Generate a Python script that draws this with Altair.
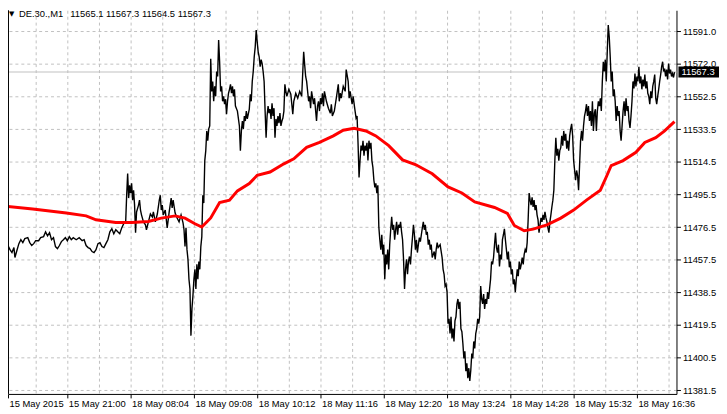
import altair as alt
import pandas as pd

# ---- price series (1-minute bars, bar number along the chart) ----
bar = [
    4, 6, 8, 10, 12, 14, 15, 17, 19, 21,
    23, 25, 28, 30, 32, 34, 36, 39, 41, 44,
    46, 48, 50, 52, 54, 56, 58, 60, 62, 64,
    66, 68, 70, 72, 74, 77, 80, 83, 85, 87,
    89, 91, 93, 95, 97, 99, 101, 103, 105, 107,
    109, 111, 113, 115, 117, 119, 121, 123, 125, 127,
    128, 129, 130, 131, 132, 133, 134, 135, 136, 137,
    138, 140, 141, 142, 143, 145, 147, 148, 150, 152,
    154, 155, 157, 159, 161, 162, 163, 164, 165, 167,
    169, 171, 173, 174, 175, 177, 179, 181, 183, 185,
    186, 187, 188, 189, 190, 191, 192, 193, 194, 195,
    196, 197, 198, 199, 200, 201, 202, 203, 204, 205,
    206, 207, 208, 209, 210, 211, 212, 213, 214, 215,
    216, 217, 218, 219, 220, 221, 222, 223, 224, 225,
    226, 227, 228, 229, 230, 231, 232, 233, 234, 235,
    236, 237, 238, 240, 242, 243, 244, 245, 246, 247,
    248, 249, 250, 252, 253, 254, 255, 256, 257, 258,
    259, 260, 261, 262, 263, 264, 265, 266, 267, 268,
    269, 270, 271, 272, 273, 274, 275, 276, 277, 278,
    279, 280, 281, 282, 283, 284, 285, 286, 287, 288,
    289, 290, 292, 294, 296, 297, 299, 301, 303, 305,
    307, 308, 309, 310, 311, 312, 313, 314, 315, 317,
    318, 320, 321, 322, 323, 324, 325, 326, 327, 328,
    330, 332, 334, 335, 336, 338, 340, 342, 343, 344,
    345, 347, 349, 350, 352, 353, 354, 356, 357, 359,
    360, 361, 362, 363, 364, 365, 366, 367, 368, 369,
    370, 371, 372, 373, 374, 375, 376, 377, 378, 379,
    380, 381, 382, 383, 384, 385, 386, 387, 388, 389,
    390, 391, 392, 393, 394, 395, 396, 397, 398, 399,
    400, 401, 402, 403, 404, 405, 406, 407, 408, 409,
    410, 411, 412, 413, 414, 415, 416, 417, 418, 419,
    420, 421, 422, 423, 424, 425, 426, 427, 428, 429,
    430, 431, 432, 433, 434, 435, 436, 437, 438, 439,
    440, 441, 442, 443, 445, 447, 448, 449, 450, 451,
    452, 453, 454, 455, 456, 457, 458, 459, 460, 461,
    462, 463, 464, 465, 466, 467, 468, 469, 470, 471,
    472, 473, 474, 475, 476, 477, 478, 479, 480, 481,
    482, 483, 484, 485, 486, 487, 488, 489, 490, 491,
    492, 493, 494, 495, 496, 497, 498, 499, 500, 501,
    502, 503, 504, 505, 506, 507, 508, 509, 510, 511,
    512, 513, 514, 515, 516, 517, 518, 519, 520, 521,
    522, 523, 524, 525, 526, 527, 528, 529, 530, 531,
    532, 533, 534, 535, 536, 537, 538, 539, 540, 541,
    542, 543, 544, 545, 546, 547, 548, 549, 550, 551,
    552, 553, 554, 555, 556, 557, 558, 559, 560, 561,
    562, 563, 564, 565, 566, 567, 568, 569, 570, 571,
    572, 573, 574, 575, 576, 577, 578, 579, 580, 581,
    582, 583, 584, 585, 586, 587, 588, 589, 590, 591,
    592, 593, 594, 595, 596, 597, 598, 599, 600, 601,
    602, 603, 604, 605, 606, 607, 608, 609, 610, 611,
    612, 613, 614, 615, 616, 617, 618, 619, 620, 621,
    622, 623, 624, 625, 626, 627, 628, 629, 630, 631,
    632, 633, 634, 635, 636, 637, 638, 639, 640, 641,
    642, 643, 644, 645, 646, 647, 648, 649, 650, 651,
    652, 653, 654, 655, 656, 657, 658, 659, 660, 661,
    662, 663, 664, 665, 666, 667, 668, 669, 670, 671,
    672, 673, 674, 675, 676, 677, 678, 679, 680, 681, 682,
]
price = [
    11465.4, 11462.5, 11466.0, 11463.6, 11461.9, 11464.8, 11459.0, 11463.1, 11467.1, 11469.4,
    11467.7, 11470.0, 11470.6, 11467.7, 11466.0, 11467.1, 11468.8, 11468.8, 11470.6, 11471.2,
    11474.0, 11471.7, 11473.5, 11469.4, 11470.6, 11465.4, 11464.2, 11466.0, 11468.3, 11469.4,
    11470.6, 11468.8, 11471.2, 11469.4, 11470.6, 11469.4, 11470.6, 11468.8, 11469.4, 11466.0,
    11464.8, 11464.2, 11462.5, 11461.9, 11463.6, 11467.1, 11467.7, 11465.4, 11464.8, 11467.1,
    11469.4, 11474.0, 11475.8, 11472.9, 11475.2, 11474.0, 11472.9, 11476.3, 11478.7, 11479.8,
    11495.4, 11508.1, 11493.7, 11501.2, 11496.6, 11502.3, 11492.5, 11498.3, 11489.6, 11473.5,
    11485.6, 11489.6, 11492.5, 11486.7, 11483.9, 11479.8, 11478.1, 11475.2, 11479.8, 11484.4,
    11482.7, 11485.6, 11479.8, 11484.4, 11492.5, 11495.4, 11486.7, 11489.6, 11483.9, 11486.7,
    11476.3, 11485.6, 11493.7, 11487.9, 11492.5, 11485.0, 11482.1, 11479.8, 11483.9, 11479.2,
    11475.2, 11465.4, 11476.3, 11463.6, 11457.9, 11446.3, 11440.6, 11413.4, 11429.0, 11436.5,
    11446.3, 11452.1, 11440.6, 11455.0, 11446.3, 11456.7, 11452.1, 11465.4, 11471.2, 11495.4,
    11490.8, 11515.6, 11521.4, 11532.9, 11527.2, 11534.1, 11535.8, 11575.1, 11556.0, 11561.8,
    11550.2, 11558.9, 11553.1, 11567.6, 11564.7, 11586.0, 11573.3, 11556.0, 11558.9, 11550.2,
    11553.1, 11548.5, 11551.4, 11542.7, 11550.2, 11554.9, 11557.2, 11560.1, 11554.9, 11558.9,
    11553.1, 11557.2, 11547.4, 11544.5, 11535.8, 11521.4, 11532.9, 11538.7, 11534.1, 11541.6,
    11538.7, 11544.5, 11539.9, 11545.6, 11554.3, 11550.2, 11561.8, 11567.6, 11576.2, 11582.0,
    11591.8, 11584.9, 11579.1, 11576.2, 11570.4, 11574.5, 11572.2, 11567.6, 11561.8, 11544.5,
    11528.9, 11541.6, 11547.4, 11543.3, 11545.6, 11539.9, 11549.1, 11541.6, 11546.2, 11528.9,
    11539.9, 11535.8, 11541.6, 11537.5, 11543.3, 11535.8, 11538.7, 11540.4, 11544.5, 11560.1,
    11556.0, 11553.1, 11557.2, 11554.3, 11542.7, 11550.2, 11554.9, 11552.0, 11556.0, 11553.1,
    11579.1, 11571.6, 11564.7, 11561.8, 11556.0, 11550.2, 11553.1, 11546.2, 11556.0, 11548.5,
    11552.0, 11538.7, 11547.4, 11550.2, 11544.5, 11552.0, 11548.5, 11554.9, 11547.4, 11556.0,
    11550.2, 11546.2, 11543.3, 11548.5, 11541.6, 11544.5, 11552.0, 11560.1, 11550.2, 11554.9,
    11552.0, 11558.9, 11556.0, 11568.7, 11561.8, 11552.0, 11556.0, 11548.5, 11553.1, 11544.5,
    11540.4, 11541.6, 11525.4, 11505.8, 11515.6, 11524.3, 11521.4, 11527.2, 11518.5, 11524.3,
    11521.4, 11526.0, 11515.6, 11527.2, 11522.5, 11526.0, 11515.6, 11511.6, 11504.1, 11500.0,
    11502.3, 11496.6, 11501.2, 11476.9, 11469.4, 11463.6, 11472.3, 11460.8, 11466.5, 11446.3,
    11460.8, 11455.0, 11463.6, 11452.1, 11466.5, 11475.2, 11482.7, 11475.2, 11478.1, 11469.4,
    11475.2, 11479.8, 11472.3, 11478.1, 11476.3, 11479.8, 11474.0, 11469.4, 11457.9, 11440.6,
    11452.1, 11457.9, 11449.2, 11456.7, 11459.6, 11455.0, 11463.6, 11470.6, 11478.1, 11472.3,
    11463.6, 11469.4, 11461.9, 11466.5, 11470.6, 11468.3, 11472.3, 11476.3, 11479.8, 11475.2,
    11478.1, 11472.3, 11474.0, 11466.5, 11469.4, 11463.6, 11466.5, 11459.0, 11460.8, 11462.5,
    11457.9, 11463.6, 11467.7, 11464.8, 11466.5, 11459.0, 11452.1, 11449.2, 11442.3, 11443.4,
    11438.8, 11420.4, 11423.2, 11414.6, 11424.4, 11411.7, 11417.5, 11410.0, 11422.1, 11424.4,
    11431.9, 11434.8, 11429.0, 11433.1, 11417.5, 11415.7, 11408.8, 11400.1, 11404.2, 11392.6,
    11397.3, 11388.6, 11394.4, 11386.9, 11393.2, 11403.0, 11400.1, 11410.0, 11405.9, 11414.6,
    11417.5, 11423.2, 11420.4, 11424.4, 11442.3, 11434.8, 11431.9, 11437.7, 11429.0, 11434.8,
    11431.9, 11438.8, 11434.8, 11440.6, 11446.3, 11456.7, 11455.0, 11459.0, 11466.5, 11473.5,
    11464.8, 11461.9, 11466.5, 11453.8, 11460.8, 11457.9, 11469.4, 11472.3, 11475.8, 11469.4,
    11463.6, 11457.9, 11462.5, 11453.3, 11456.7, 11449.2, 11452.1, 11443.4, 11446.3, 11438.8,
    11446.3, 11452.1, 11448.1, 11456.7, 11452.1, 11455.0, 11459.0, 11455.0, 11460.8, 11463.6,
    11461.9, 11467.7, 11481.0, 11496.6, 11492.5, 11489.6, 11494.2, 11488.5, 11492.5, 11486.7,
    11489.6, 11483.9, 11481.0, 11473.5, 11478.1, 11482.1, 11479.8, 11483.9, 11481.0, 11485.6,
    11482.1, 11479.8, 11476.3, 11473.5, 11479.8, 11483.9, 11488.5, 11492.5, 11498.3, 11515.6,
    11528.9, 11518.5, 11522.5, 11515.6, 11521.4, 11523.1, 11530.0, 11524.3, 11532.9, 11527.2,
    11531.2, 11522.5, 11527.2, 11521.4, 11530.0, 11534.1, 11537.0, 11530.0, 11515.6, 11509.8,
    11504.1, 11509.8, 11506.9, 11498.3, 11512.7, 11527.2, 11532.9, 11527.2, 11535.8, 11541.6,
    11544.5, 11548.5, 11541.6, 11547.4, 11538.7, 11544.5, 11535.8, 11550.2, 11532.9, 11543.3,
    11545.6, 11532.9, 11544.5, 11550.2, 11547.4, 11552.0, 11544.5, 11561.8, 11573.3, 11567.6,
    11574.5, 11561.8, 11579.1, 11594.7, 11587.8, 11576.2, 11561.8, 11567.6, 11553.1, 11557.2,
    11550.2, 11538.7, 11547.4, 11541.6, 11544.5, 11532.9, 11527.2, 11535.8, 11544.5, 11550.2,
    11541.6, 11552.0, 11544.5, 11547.4, 11538.7, 11534.7, 11541.6, 11550.2, 11561.8, 11557.7,
    11566.4, 11558.9, 11564.7, 11561.8, 11570.4, 11560.6, 11564.7, 11557.2, 11562.9, 11558.9,
    11565.8, 11557.7, 11561.8, 11554.9, 11553.1, 11548.5, 11556.0, 11552.0, 11558.9, 11561.8,
    11565.8, 11552.0, 11548.5, 11553.1, 11557.2, 11561.8, 11565.8, 11570.4, 11573.3, 11567.6,
    11569.3, 11564.7, 11568.7, 11562.9, 11572.2, 11566.4, 11568.7, 11564.7, 11566.4, 11564.1, 11567.3,
]
assert len(bar) == len(price), (len(bar), len(price))

# ---- moving average (red) ----
ma_bar = [4, 33, 67, 87, 97, 117, 133, 150, 163, 177,
          187, 197, 204, 213, 222, 232, 240, 252, 260, 273,
          287, 297, 310, 323, 337, 347, 358, 370, 380, 393,
          407, 420, 437, 453, 467, 480, 500, 513, 520, 530,
          539, 553, 567, 580, 593, 607, 613, 618, 630, 643,
          652, 663, 672, 682]
ma_price = [11489.1, 11487.3, 11485.0, 11483.3, 11481.0, 11479.4, 11479.4, 11480.0, 11482.0, 11483.3,
            11482.0, 11478.7, 11476.8, 11482.1, 11491.1, 11492.5, 11497.9, 11502.2, 11507.0, 11508.9,
            11513.7, 11516.6, 11523.3, 11526.2, 11530.0, 11533.3, 11534.5, 11532.9, 11530.0, 11524.3,
            11516.0, 11513.3, 11507.9, 11500.2, 11496.7, 11491.5, 11488.2, 11484.8, 11477.7, 11474.6,
            11475.6, 11478.1, 11482.0, 11486.7, 11492.5, 11498.3, 11506.0, 11512.7, 11515.6, 11520.4,
            11526.2, 11529.0, 11532.9, 11538.3]
assert len(ma_bar) == len(ma_price)

# ---- axis texts ----
time_labels = ["15 May 2015", "15 May 21:00", "18 May 08:04", "18 May 09:08", "18 May 10:12",
               "18 May 11:16", "18 May 12:20", "18 May 13:24", "18 May 14:28", "18 May 15:32",
               "18 May 16:36"]
price_tick_values = [11381.5, 11400.55, 11419.6, 11438.65, 11457.7, 11476.75,
                     11495.8, 11514.85, 11533.9, 11552.95, 11572.0, 11591.05]
price_tick_labels = ["11381.5", "11400.5", "11419.5", "11438.5", "11457.5", "11476.5",
                     "11495.5", "11514.5", "11533.5", "11552.5", "11572.0", "11591.0"]
last_price = 11567.3
header_symbol = "DE.30.,M1"
header_ohlc = "11565.1 11567.3 11564.5 11567.3"

W, H = 676, 388
FONT = "Liberation Sans"
FS = 9.5
GRID = "#C0C0C0"

price_df = pd.DataFrame({"bar": bar, "price": price})
ma_df = pd.DataFrame({"bar": ma_bar, "price": ma_price})

x_scale = alt.Scale(domain=[8, 684], nice=False, zero=False)
y_scale = alt.Scale(domain=[11379.36, 11603.35], nice=False, zero=False)

x_values = [8] + list(range(36, 677, 32))
t_arr = "[" + ",".join("'%s'" % t for t in time_labels) + "]"
x_label_expr = ("datum.value == 8 ? '%s' : ((datum.value - 4) %% 64 == 0 ? %s[round((datum.value - 4) / 64)] : '')"
                % (time_labels[0], t_arr))
p_arr = "[" + ",".join("'%s'" % t for t in price_tick_labels) + "]"
y_label_expr = "%s[round((datum.value - 11381.5) / 19.05)]" % p_arr

x_axis = alt.Axis(
    values=x_values, tickCount=200, labelExpr=x_label_expr, title=None,
    grid=True, gridColor=GRID, gridDash=[3, 3], gridWidth=1,
    domainColor="black", tickColor="black", tickSize=4,
    tickOpacity={"condition": {"test": "datum.value == 8 || (datum.value - 4) % 64 == 0", "value": 1}, "value": 0},
    labelAlign="left", labelBaseline="top", labelPadding=1, labelOffset=1,
    labelFlush=False, labelOverlap=False, labelBound=False,
    labelFont=FONT, labelFontSize=FS, labelColor="black",
)
y_axis = alt.Axis(
    orient="right", values=price_tick_values, tickCount=200, labelExpr=y_label_expr, title=None,
    grid=True, gridColor=GRID, gridDash=[3, 3], gridWidth=1,
    domainColor="black", tickColor="black", tickSize=4,
    labelPadding=2, labelFlush=False, labelOverlap=False, labelBound=False,
    labelFont=FONT, labelFontSize=FS, labelColor="black", labelBaseline="middle",
)

price_line = alt.Chart(price_df).mark_line(color="black", strokeWidth=1.4).encode(
    x=alt.X("bar:Q", scale=x_scale, axis=x_axis),
    y=alt.Y("price:Q", scale=y_scale, axis=y_axis),
)
ma_line = alt.Chart(ma_df).mark_line(color="#FF0000", strokeWidth=3).encode(
    x=alt.X("bar:Q", scale=x_scale),
    y=alt.Y("price:Q", scale=y_scale),
)
last_df = pd.DataFrame({"p": [last_price], "top": [last_price + 3.2], "bot": [last_price - 3.2],
                        "t": ["%.1f" % last_price]})
last_rule = alt.Chart(last_df).mark_rule(color=GRID, strokeWidth=1).encode(
    y=alt.Y("p:Q", scale=y_scale))
last_box = alt.Chart(last_df).mark_rect(color="black").encode(
    x=alt.value(W + 2), x2=alt.value(W + 43),
    y=alt.Y("top:Q", scale=y_scale), y2="bot:Q")
last_text = alt.Chart(last_df).mark_text(color="white", align="left", baseline="middle",
                                         font=FONT, fontSize=FS).encode(
    x=alt.value(W + 5), y=alt.Y("p:Q", scale=y_scale), text="t:N")

left_frame = alt.Chart(last_df).mark_rule(color="black", strokeWidth=1).encode(
    x=alt.value(0.5), y=alt.value(0), y2=alt.value(H))

head_df = pd.DataFrame({"sym": [header_symbol], "ohlc": [header_ohlc], "tri": ["\u25bc"]})
head_tri = alt.Chart(head_df).mark_text(color="black", align="left", baseline="middle",
                                        fontSize=7, font="DejaVu Sans").encode(
    x=alt.value(1), y=alt.value(4), text="tri:N")
head_sym = alt.Chart(head_df).mark_text(color="black", align="left", baseline="middle",
                                        font=FONT, fontSize=FS).encode(
    x=alt.value(11), y=alt.value(4), text="sym:N")
head_ohlc = alt.Chart(head_df).mark_text(color="black", align="left", baseline="middle",
                                         font=FONT, fontSize=FS).encode(
    x=alt.value(63), y=alt.value(4), text="ohlc:N")

chart = alt.layer(
    last_rule, price_line, ma_line, left_frame, last_box, last_text,
    head_tri, head_sym, head_ohlc,
).properties(
    width=W, height=H,
    autosize=alt.AutoSizeParams(type="none"),
    padding={"left": 0, "top": 0, "right": 43, "bottom": 18},
    background="white",
).configure_view(stroke=None)

chart.save("out.html", embed_options={"renderer": "svg", "actions": False})
